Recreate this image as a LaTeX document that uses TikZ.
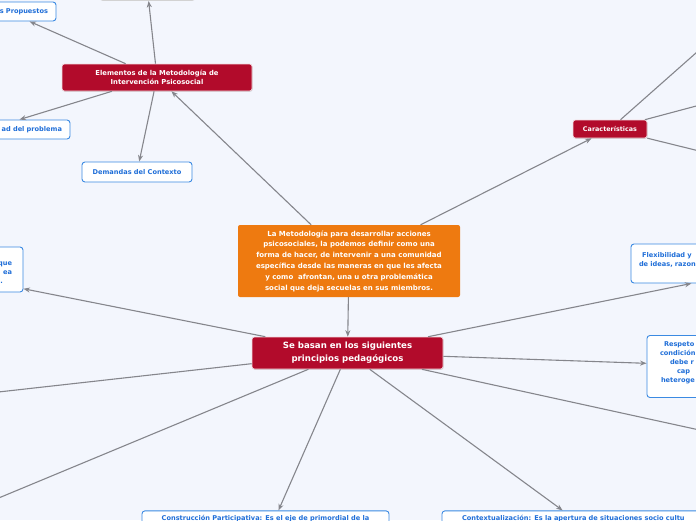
\documentclass[tikz,border=0pt]{standalone}
\usepackage{fontspec}
\setmainfont{DejaVu Sans}
\usepackage{tikz}
\usetikzlibrary{shadows,arrows.meta}
\definecolor{fondo}{HTML}{F3F6FD}
\definecolor{naranja}{HTML}{EE7A10}
\definecolor{rojo}{HTML}{B20B2B}
\definecolor{azultexto}{HTML}{1F6ED8}
\definecolor{azulborde}{HTML}{3B8AE2}
\definecolor{gris}{HTML}{85868C}

\begin{document}
\begin{tikzpicture}[x=1pt,y=-1pt,
  caja naranja/.style={fill=naranja, text=white, rounded corners=2pt, align=center,
    font=\fontsize{7}{10.8}\selectfont\bfseries, inner sep=0pt},
  caja roja/.style={fill=rojo, draw=white!85!rojo, line width=.6pt, text=white,
    rounded corners=2.5pt, align=center, inner sep=0pt,
    drop shadow={shadow xshift=.6pt, shadow yshift=-.8pt, opacity=.3}},
  caja azul/.style={fill=white, draw=azulborde, line width=.9pt, rounded corners=3pt,
    text=azultexto, font=\fontsize{6.6}{9}\selectfont\bfseries, inner ysep=0pt},
  conector/.style={draw=gris, line width=1.1pt, -{Stealth[length=6.5pt,width=5pt]}}]
\path[use as bounding box, fill=fondo] (0,0) rectangle (696,520);

\node[caja naranja, minimum width=222pt, minimum height=72pt] (metodologia) at (349,261) {%
La Metodología para desarrollar acciones\\
psicosociales, la podemos definir como una\\
forma de hacer, de intervenir a una comunidad\\
específica desde las maneras en que les afecta\\
y como \ afrontan, una u otra problemática\\
social que deja secuelas en sus miembros.};

\node[caja roja, minimum width=191pt, minimum height=32pt,
  font=\fontsize{8.6}{13}\selectfont\bfseries] (principios) at (347.5,353)
  {Se basan en los siguientes\\principios pedagógicos};
\node[caja roja, minimum width=190pt, minimum height=27pt,
  font=\fontsize{6.8}{9.5}\selectfont\bfseries] (elementos) at (157,77.5)
  {Elementos de la Metodología de\\Intervención Psicosocial};
\node[caja roja, minimum width=74pt, minimum height=18pt,
  font=\fontsize{6.4}{8}\selectfont\bfseries] (caracteristicas) at (610,129)
  {Características};

\node[caja azul, minimum width=110pt, minimum height=20pt] (demandas) at (137,172)
  {Demandas del Contexto};
\node[caja azul, minimum height=19pt, text width=82pt, align=right, inner xsep=8pt]
  (propuestos) at (7,11.5) {s Propuestos};
\node[caja azul, minimum height=19pt, text width=150pt, align=right, inner xsep=8pt]
  (problema) at (-13,129.5) {ad del problema};
\node[caja azul, draw=gray!35, minimum width=95pt, minimum height=20pt] (arriba)
  at (147.5,-9.5) {};
\node[caja azul, minimum height=45pt, text width=172pt, align=right, inner xsep=11pt]
  (izquierda) at (-74,269.5) {\mbox{}\\que\\ea\hspace*{3pt}\\.\hspace*{9pt}};
\node[caja azul, minimum height=39pt, text width=302pt, align=left, inner xsep=8pt]
  (flexibilidad) at (790,263.5) {\hspace*{3pt}Flexibilidad y\\de ideas, razon\\\mbox{}};
\node[caja azul, minimum height=62pt, text width=158pt, align=left, inner xsep=13pt]
  (respeto) at (739,366.5) {\hspace*{4pt}Respeto\\condición\\\hspace*{10pt}debe r\\
  \hspace*{17pt}cap\\\hspace*{1pt}heteroge\\\mbox{}};
\node[caja azul, minimum width=247pt, inner ysep=4pt, text depth=45pt] (construccion)
  at (265.5,540) {Construcción Participativa: Es el eje de primordial de la};
\node[caja azul, text width=282pt, align=left, inner xsep=20pt, inner ysep=4pt,
  text depth=45pt] (contexto) at (603,540)
  {Contextualización: Es la apertura de situaciones socio cultu};

\coordinate (c1) at (740,14);
\coordinate (c2) at (760,89);
\coordinate (c3) at (760,166);
\coordinate (p1) at (-100,403);
\coordinate (p2) at (-100,539);
\coordinate (p3) at (800,452);

\draw[conector] (metodologia) -- (elementos);
\draw[conector] (metodologia) -- (caracteristicas);
\draw[conector] (metodologia) -- (principios);
\draw[conector] (elementos) -- (propuestos);
\draw[conector] (elementos) -- (arriba);
\draw[conector] (elementos) -- (problema);
\draw[conector] (elementos) -- (demandas);
\draw[conector] (caracteristicas) -- (c1);
\draw[conector] (caracteristicas) -- (c2);
\draw[conector] (caracteristicas) -- (c3);
\draw[conector] (principios) -- (izquierda);
\draw[conector] (principios) -- (p1);
\draw[conector] (principios) -- (p2);
\draw[conector] (principios) -- (construccion);
\draw[conector] (principios) -- (contexto);
\draw[conector] (principios) -- (flexibilidad);
\draw[conector] (principios) -- (respeto);
\draw[conector] (principios) -- (p3);
\end{tikzpicture}
\end{document}
